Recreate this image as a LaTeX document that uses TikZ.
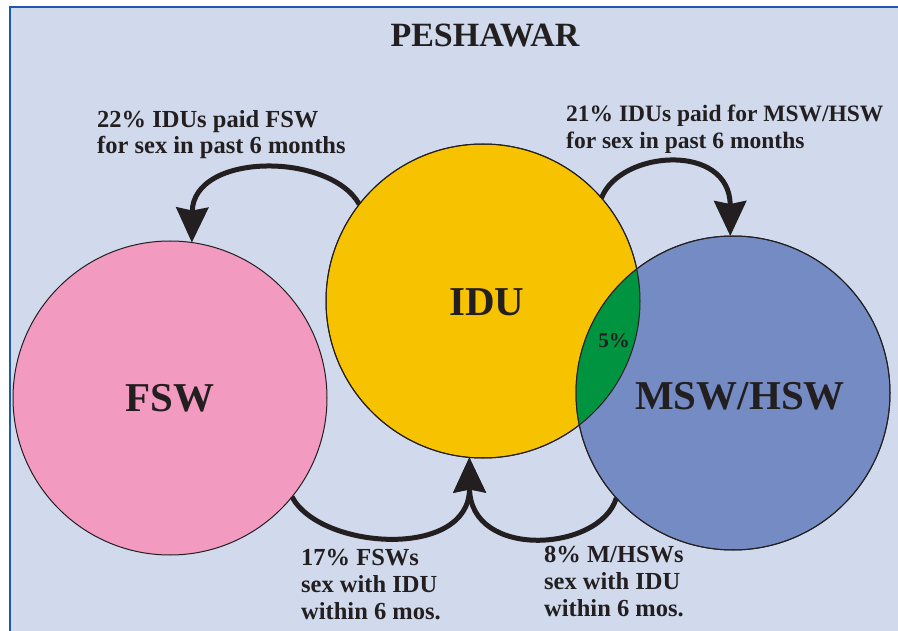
\documentclass[tikz,border=0pt]{standalone}
\usepackage{fontspec}
\setmainfont{Liberation Serif}
\usepackage{tikz}
\usetikzlibrary{arrows.meta,positioning}

\definecolor{bgblue}{RGB}{208,218,236}
\definecolor{frameblue}{RGB}{30,90,170}
\definecolor{fswpink}{RGB}{242,154,192}
\definecolor{iduyellow}{RGB}{247,194,0}
\definecolor{mswblue}{RGB}{116,139,196}
\definecolor{lensgreen}{RGB}{0,147,64}
\definecolor{ink}{RGB}{35,31,32}

\begin{document}
\begin{tikzpicture}[
    x=1pt, y=-1pt,
    every node/.style={font=\bfseries, text=ink},
    group/.style={circle, draw=ink, line width=1pt, minimum size=314pt, inner sep=0pt, outer sep=0pt, font=\fontsize{41}{45}\selectfont\bfseries},
    note/.style={anchor=base west, align=left, inner sep=0pt, font=\fontsize{24.5}{26.8}\selectfont\bfseries},
    arrow/.style={line width=5pt, draw=ink, -{Stealth[length=35pt, width=32pt, inset=3pt]}}
  ]
    % page and frame
    \useasboundingbox (0,0) rectangle (898,631);
    \fill[white] (0,0) rectangle (898,631);
    \filldraw[fill=bgblue, draw=frameblue, line width=2pt] (10,7) rectangle (960,680);

    \node[font=\fontsize{34}{38}\selectfont\bfseries] (title) at (485,36) {PESHAWAR};

    % the three groups
    \node[group, fill=fswpink] (fsw) at (170,398) {FSW};
    \node[group, fill=iduyellow] (idu) at (483,301) {};
    \node[group, fill=mswblue] (msw) at (733,393) {};

    % overlap of IDU and MSW/HSW
    \begin{scope}
      \clip (idu.center) circle[radius=157];
      \fill[lensgreen] (msw.center) circle[radius=157];
    \end{scope}
    \draw[ink, line width=1pt] (idu.center) circle[radius=157];
    \draw[ink, line width=1pt] (msw.center) circle[radius=157];

    \node[font=\fontsize{41}{45}\selectfont\bfseries] (idulabel) at (487,302) {IDU};
    \node[font=\fontsize{41}{45}\selectfont\bfseries] (mswlabel) at (740,396) {MSW/HSW};
    \node[font=\fontsize{21}{24}\selectfont\bfseries] (overlap) at (614,341) {5\%};

    % arrows
    \draw[arrow] (idu.142) .. controls (330,152) and (193,152) .. (fsw.82);
    \draw[arrow] (idu.41) .. controls (620,150) and (730,142) .. (msw.91);
    \draw[arrow] (fsw.-39) .. controls (320,550) and (470,560) .. (idu.265);
    \draw[arrow] (msw.222) .. controls (600,552) and (470,560) .. (idu.265);

    % notes
    \node[note] (idufsw) at (97,154) {22\% IDUs paid FSW\\for sex in past 6 months};
    \node[note, font=\fontsize{23.5}{27.5}\selectfont\bfseries] (idumsw) at (566,149) {21\% IDUs paid for MSW/HSW\\for sex in past 6 months};
    \node[note] (fswidu) at (301,619) {17\% FSWs\\sex with IDU\\within 6 mos.};
    \node[note] (mswidu) at (544,616) {8\% M/HSWs\\sex with IDU\\within 6 mos.};

  \end{tikzpicture}
\end{document}
